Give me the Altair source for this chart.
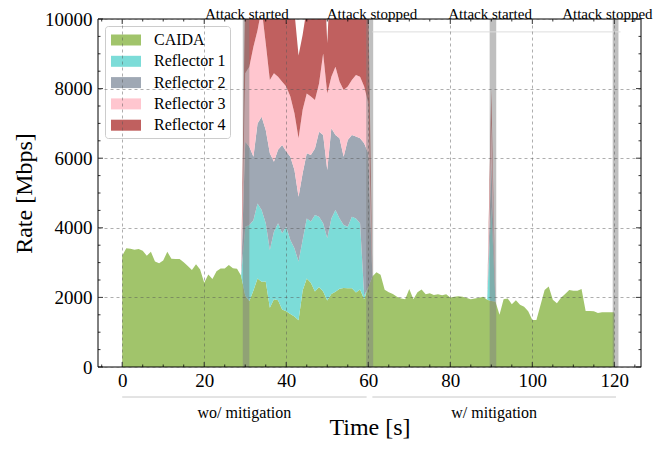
import altair as alt
import pandas as pd

W, H = 543, 348
FONT = "Liberation Serif"

# ---------------- data ----------------
time_s = list(range(0, 121))
caida = [
    3200, 3410, 3400, 3370, 3390, 3340, 3200, 3310, 3030, 2980,
    3060, 3310, 3110, 3100, 3100, 3010, 2900, 2790, 2950, 2800,
    2420, 2660, 2530, 2750, 2830, 2830, 2930, 2840, 2820, 2620,
    2050, 1900, 2200, 2540, 2450, 2460, 1700, 1950, 1920, 1650,
    1600, 1520, 1450, 1340, 2200, 2540, 2420, 2170, 2300, 2170,
    1910, 2100, 2160, 2250, 2270, 2260, 2260, 2140, 2230, 1950,
    2300, 2600, 2720, 2650, 2220, 2150, 2100, 2020, 1970, 1950,
    2240, 1950, 2150, 2230, 2090, 2120, 2070, 2090, 2060, 2090,
    2000, 2020, 2030, 2020, 1980, 1945, 1970, 1990, 2020, 1930,
    1900, 1880, 1500, 1950, 1970, 1800, 1920, 1790, 1730, 1600,
    1350, 1350, 1780, 2210, 2310, 1930, 1830, 1990, 2100, 2210,
    2190, 2190, 2240, 1610, 1610, 1600, 1550, 1570, 1570, 1570, 1570,
]

attack1_t = list(range(29, 62))
refl1_a1 = [0, 1980, 2180, 2020, 2160, 2060, 1670, 1660, 1940, 2210, 2190,
            2430, 2130, 1960, 1690, 1450, 1730, 1760, 2200, 2020, 1960,
            1790, 2170, 2350, 2020, 1810, 1770, 2060, 2130, 1900, 100, 0, 0]
refl2_a1 = [0, 2445, 2250, 1820, 2300, 2680, 2680, 2780, 2010, 2110, 2540,
            2160, 2390, 2250, 1860, 1920, 1870, 1910, 1910, 2440, 2540,
            1960, 2590, 2160, 2300, 1960, 2490, 2350, 2350, 2440, 4380, 3840, 0]
refl3_a1 = [0, 1965, 2300, 3160, 2680, 3110, 2490, 2110, 2540, 2100, 1820,
            1870, 1730, 1630, 1680, 1820, 1720, 1680, 1390, 1390, 2340,
            2200, 1480, 1960, 1630, 1920, 1540, 1580, 1770, 1770, 1630, 1440, 0]
refl4_a1 = [0, 2560, 2670, 2600, 1820, 600, 2400, 3650, 2960, 2660, 2600,
            2540, 2630, 2910, 2380, 2160, 2440, 3130, 3530, 3450, 2990,
            1440, 3460, 2870, 3100, 2940, 3040, 3150, 2910, 2860, 2840, 3020, 0]

attack2_t = [89, 90, 91]
refl1_a2 = [0, 2700, 0]
refl2_a2 = [0, 1300, 0]
refl3_a2 = [0, 1100, 0]
refl4_a2 = [0, 990, 0]

series_names = ["CAIDA", "Reflector 1", "Reflector 2", "Reflector 3", "Reflector 4"]
series_colors = ["#a1c46b", "#7cdcd8", "#9fa8b4", "#ffc6cf", "#c0605f"]

band_start = [29.4, 59.5, 89.6, 119.6]
band_end = [31.0, 61.2, 91.2, 121.0]

event_t = [30.4, 60.9, 89.7, 118.3]
event_labels = ["Attack started", "Attack stopped", "Attack started", "Attack stopped"]

phase_start = [0, 61]
phase_end = [59.6, 120.4]
phase_mid = [29.8, 90.7]
phase_labels = ["wo/ mitigation", "w/ mitigation"]

faint_start = [61.0]
faint_end = [121.5]
faint_level = [9630]

x_major = [0, 20, 40, 60, 80, 100, 120]
x_minor = [t for t in range(-5, 126, 5) if t % 20 != 0]
y_major = [0, 2000, 4000, 6000, 8000, 10000]
y_minor = [v for v in range(500, 10000, 500) if v % 2000 != 0]


def refl(a1, a2):
    d = dict(zip(attack1_t, a1))
    d.update(zip(attack2_t, a2))
    return [d.get(t, 0) for t in time_s]


all_series = [
    caida,
    refl(refl1_a1, refl1_a2),
    refl(refl2_a1, refl2_a2),
    refl(refl3_a1, refl3_a2),
    refl(refl4_a1, refl4_a2),
]
rows = []
for i, (name, vals) in enumerate(zip(series_names, all_series)):
    for t, v in zip(time_s, vals):
        rows.append({"t": t, "rate": v, "series": name, "ord": i})
df = pd.DataFrame(rows)

xs = alt.Scale(domain=[-5.9, 126.5], nice=False, zero=False)
ys = alt.Scale(domain=[0, 10000], nice=False)

# ---------------- layers ----------------
area = alt.Chart(df).mark_area(clip=True, interpolate="linear").encode(
    x=alt.X("t:Q", scale=xs, axis=alt.Axis(
        values=x_major, title="Time [s]", titleFontSize=24, titlePadding=25,
        labelFontSize=19, labelPadding=4, ticks=False, tickSize=0, domain=False,
        labelOverlap=False, labelFlush=False, format="d",
        grid=True, gridDash=[3, 3], gridColor="#555555", gridOpacity=0.6,
        gridWidth=0.8, zindex=1)),
    y=alt.Y("rate:Q", stack="zero", scale=ys, axis=alt.Axis(
        values=y_major, title="Rate [Mbps]", titleFontSize=24, titlePadding=8,
        labelFontSize=19, labelPadding=6, ticks=False, tickSize=0, domain=False,
        labelOverlap=False, labelFlush=False, format="d",
        grid=True, gridDash=[3, 3], gridColor="#555555", gridOpacity=0.6,
        gridWidth=0.8, zindex=1)),
    color=alt.Color("series:N", scale=alt.Scale(domain=series_names, range=series_colors),
                    legend=alt.Legend(
                        orient="none", legendX=7, legendY=7, title=None,
                        symbolType="M-1.5,-0.55H1.5V0.55H-1.5Z", symbolSize=400,
                        symbolOffset=7,
                        symbolStrokeWidth=0, symbolOpacity=1,
                        labelFont=FONT, labelFontSize=16, labelOffset=18,
                        rowPadding=3.3, padding=4, strokeColor="#cccccc",
                        fillColor="white", cornerRadius=3)),
    order=alt.Order("ord:Q", sort="ascending"),
)

bands = alt.Chart(pd.DataFrame({"t": band_start, "e": band_end})).mark_rect(
    color="#808080", opacity=0.5).encode(
    x=alt.X("t:Q", scale=xs), x2="e:Q",
    y=alt.value(0), y2=alt.value(H))

faint = alt.Chart(pd.DataFrame({"t": faint_start, "e": faint_end, "rate": faint_level})).mark_rule(
    color="#dddddd", strokeWidth=1).encode(
    x=alt.X("t:Q", scale=xs), x2="e:Q",
    y=alt.Y("rate:Q", scale=ys))


def xticks(vals, y0, y1):
    return alt.Chart(pd.DataFrame({"t": vals})).mark_rule(color="black", strokeWidth=0.8).encode(
        x=alt.X("t:Q", scale=xs), y=alt.value(y0), y2=alt.value(y1))


def yticks(vals, x0, x1):
    return alt.Chart(pd.DataFrame({"rate": vals})).mark_rule(color="black", strokeWidth=0.8).encode(
        y=alt.Y("rate:Q", scale=ys), x=alt.value(x0), x2=alt.value(x1))


ticks = [
    xticks(x_major, H, H - 5), xticks(x_major, 0, 5),
    xticks(x_minor, H, H - 2.5), xticks(x_minor, 0, 2.5),
    yticks(y_major, 0, 5), yticks(y_major, W, W - 5),
    yticks(y_minor, 0, 2.5), yticks(y_minor, W, W - 2.5),
]

frame_df = pd.DataFrame({"k": [0]})
frame = [
    alt.Chart(frame_df).mark_rule(color="black", strokeWidth=1).encode(
        x=alt.value(0), x2=alt.value(W), y=alt.value(0)),
    alt.Chart(frame_df).mark_rule(color="black", strokeWidth=1).encode(
        x=alt.value(0), x2=alt.value(W), y=alt.value(H)),
    alt.Chart(frame_df).mark_rule(color="black", strokeWidth=1).encode(
        x=alt.value(0), y=alt.value(0), y2=alt.value(H)),
    alt.Chart(frame_df).mark_rule(color="black", strokeWidth=1).encode(
        x=alt.value(W), y=alt.value(0), y2=alt.value(H)),
]

events = alt.Chart(pd.DataFrame({"t": event_t, "label": event_labels})).mark_text(
    font=FONT, fontSize=15, baseline="alphabetic", align="center", color="black").encode(
    x=alt.X("t:Q", scale=xs), y=alt.value(-0.5), text="label:N")

phase_lines = alt.Chart(pd.DataFrame({"t": phase_start, "e": phase_end})).mark_rule(
    color="#c8c8c8", strokeWidth=1).encode(
    x=alt.X("t:Q", scale=xs), x2="e:Q", y=alt.value(H + 30))

phase_text = alt.Chart(pd.DataFrame({"t": phase_mid, "label": phase_labels})).mark_text(
    font=FONT, fontSize=16, baseline="middle", align="center", color="black").encode(
    x=alt.X("t:Q", scale=xs), y=alt.value(H + 46), text="label:N")

chart = alt.layer(
    area, bands, faint, *ticks, *frame, events, phase_lines, phase_text
).properties(
    width=W, height=H, autosize="none",
    padding={"left": 90, "top": 11, "right": 13, "bottom": 74},
).configure_axis(
    labelFont=FONT, titleFont=FONT, labelColor="black", titleColor="black",
    titleFontWeight="normal",
).configure_view(stroke=None)

chart.save("out.html", embed_options={"renderer": "svg", "actions": False})
